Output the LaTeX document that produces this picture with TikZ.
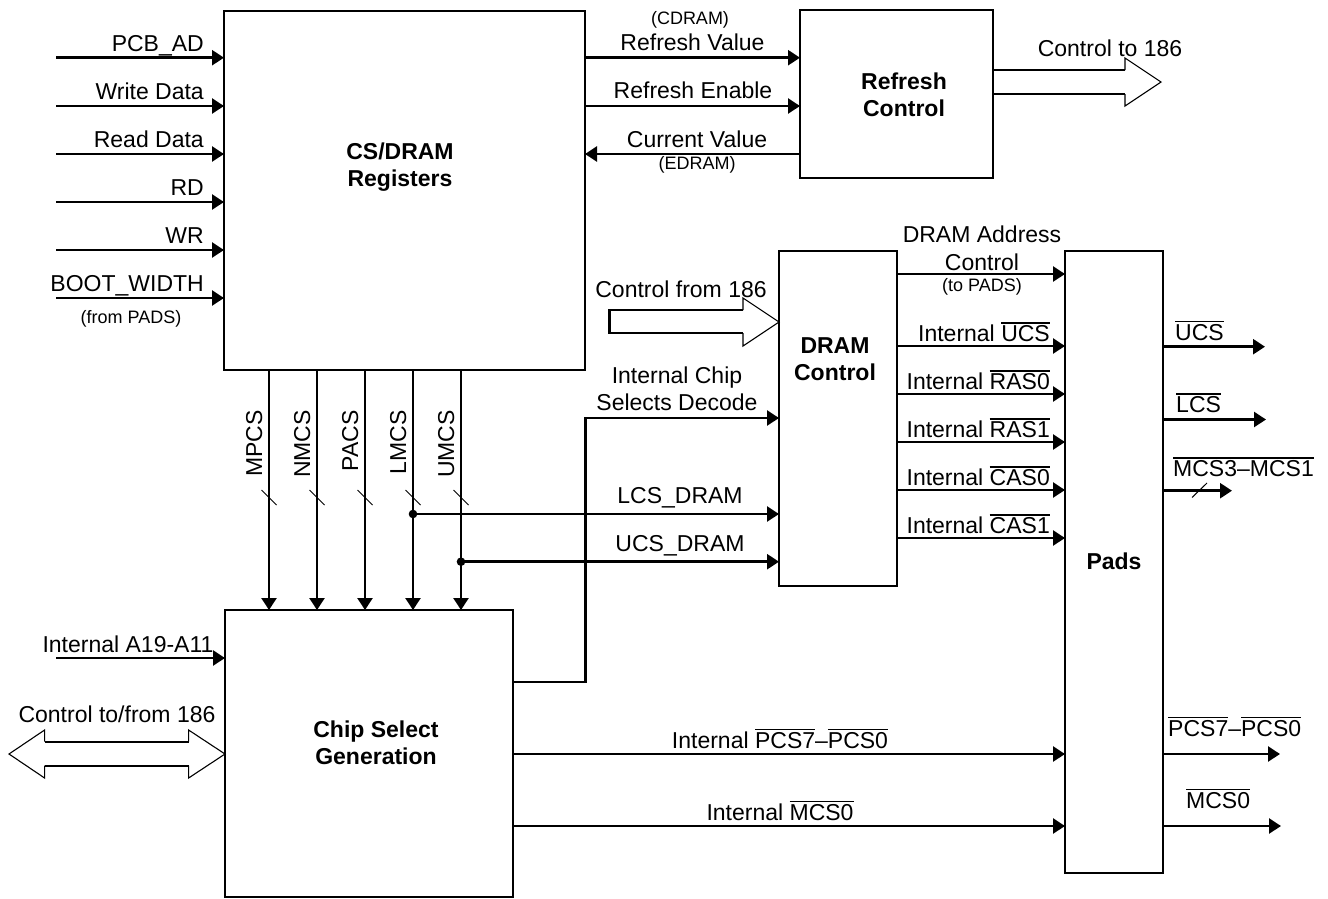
\documentclass[tikz,border=0pt]{standalone}
\usepackage{fontspec}
\setmainfont{Liberation Sans}
\usetikzlibrary{arrows.meta}
\newcommand{\ovl}[1]{\vbox{\hrule height 1.5pt\kern 1.8pt\hbox{#1}}}
\tikzset{
  box/.style={draw, line width=2.5pt, inner sep=0pt, outer sep=0pt},
  arr/.style={line width=2.5pt, -{Triangle[length=12pt,width=15pt]}},
  wire/.style={line width=2.5pt},
  lbl/.style={font=\fontsize{23}{27}\selectfont, inner sep=0pt},
  sml/.style={font=\fontsize{18}{21}\selectfont, inner sep=0pt},
  blbl/.style={font=\fontsize{23}{27}\selectfont\bfseries, align=center, inner sep=0pt},
  headline/.style={line width=1.1pt, line join=miter},
  shaft/.style={line width=2.2pt},
  tick/.style={line width=1pt},
}
\begin{document}
\begin{tikzpicture}[x=1pt, y=-1pt]
\useasboundingbox (0,0) rectangle (1328,898);
% boxes
\node[box, minimum width=361pt, minimum height=359pt] (reg) at (404.5,190.5) {};
\node[box, minimum width=193pt, minimum height=168pt] (refr) at (896.5,94) {};
\node[box, minimum width=118pt, minimum height=335pt] (dram) at (838,418.5) {};
\node[box, minimum width=98pt, minimum height=622pt] (pads) at (1114,562) {};
\node[box, minimum width=288pt, minimum height=287pt] (csg) at (369,753.5) {};
% box texts
\node[blbl] (regtxt) at (400,167) {CS/DRAM\\Registers};
\node[blbl] (refrtxt) at (904,95) {Refresh\\Control};
\node[blbl] (dramtxt) at (835,359) {DRAM\\Control};
\node[blbl] (padstxt) at (1114,561) {Pads};
\node[blbl] (csgtxt) at (376,743) {Chip Select\\Generation};
% inputs to registers
\foreach \yy/\tx [count=\i] in {57.7/PCB\_AD, 106/Write Data, 154/Read Data, 202/RD, 250/WR, 298/BOOT\_WIDTH}{
  \coordinate (in\i) at (56,\yy);
  \draw[arr] (in\i) -- (in\i -| reg.west);
  \node[lbl, anchor=base east] (inl\i) at (204,\yy-6.7) {\tx};
}
\node[sml, anchor=base] (frompads) at (131,323) {(from PADS)};
% registers <-> refresh
\coordinate (rv) at (0,57.7);
\coordinate (re) at (0,106);
\coordinate (cv) at (0,154);
\draw[arr] (reg.east |- rv) -- (refr.west |- rv);
\draw[arr] (reg.east |- re) -- (refr.west |- re);
\draw[arr] (refr.west |- cv) -- (reg.east |- cv);
\node[sml, anchor=base] (cdram) at (690,24) {(CDRAM)};
\node[lbl, anchor=base] (rvl) at (692.5,50.5) {Refresh Value};
\node[lbl, anchor=base] (rel) at (693,98.5) {Refresh Enable};
\node[lbl, anchor=base] (cvl) at (697,147.5) {Current Value};
\node[sml, anchor=base] (edram) at (697,169) {(EDRAM)};
% control to 186 (hollow arrow)
\draw[shaft] (refr.east |- 0,70) -- (1125,70);
\draw[shaft] (refr.east |- 0,94) -- (1125,94);
\draw[headline] (1125,70) -- (1125,58) -- (1161,82) -- (1125,106) -- (1125,94);
\node[lbl, anchor=base] (ct186) at (1110,56) {Control to 186};
% buses registers -> chip select generation
\foreach \xx/\nm in {269/MPCS, 317/NMCS, 365/PACS, 413/LMCS, 461/UMCS}{
  \coordinate (b\nm) at (\xx,0);
  \draw[arr] (reg.south -| b\nm) -- (csg.north -| b\nm);
  \node[lbl, rotate=90, anchor=base east] (bl\nm) at (\xx-7,410) {\nm};
  \draw[tick] (\xx-7.5,490) -- (\xx+7.5,505);
}
\coordinate (dl) at (413,514);
\coordinate (du) at (461,561.7);
\fill (dl) circle (4.3pt);
\fill (du) circle (4.3pt);
\draw[arr] (dl) -- (dram.west |- dl);
\draw[arr] (du) -- (dram.west |- du);
\node[lbl, anchor=base] (lcsd) at (680,503) {LCS\_DRAM};
\node[lbl, anchor=base] (ucsd) at (680,551) {UCS\_DRAM};
% internal chip selects decode
\coordinate (decx) at (585.5,682);
\coordinate (decy) at (0,418);
\draw[arr] (csg.east |- decx) -- (decx) |- (dram.west |- decy);
\node[lbl, anchor=base] (icsd1) at (677,383) {Internal Chip};
\node[lbl, anchor=base] (icsd2) at (677,410) {Selects Decode};
% control from 186 (hollow arrow)
\draw[shaft] (743,310) -- (609.5,310) -- (609.5,333) -- (743,333);
\draw[headline] (743,310) -- (743,298) -- (dram.west |- 0,322) -- (743,346) -- (743,333);
\node[lbl, anchor=base] (cf186) at (681,297) {Control from 186};
% dram -> pads
\foreach \yy [count=\i] in {274,346,394,442,490,538}{
  \coordinate (dp\i) at (0,\yy);
  \draw[arr] (dram.east |- dp\i) -- (pads.west |- dp\i);
}
\node[lbl, anchor=base] (dac1) at (982,242.7) {DRAM Address};
\node[lbl, anchor=base] (dac2) at (982,270) {Control};
\node[sml, anchor=base] (dac3) at (982,291.5) {(to PADS)};
\node[lbl, anchor=base east] (iucs) at (1050,341.5) {Internal \ovl{UCS}};
\node[lbl, anchor=base east] (iras0) at (1050,389.5) {Internal \ovl{RAS0}};
\node[lbl, anchor=base east] (iras1) at (1050,437.5) {Internal \ovl{RAS1}};
\node[lbl, anchor=base east] (icas0) at (1050,485.5) {Internal \ovl{CAS0}};
\node[lbl, anchor=base east] (icas1) at (1050,533.5) {Internal \ovl{CAS1}};
% chip select generation -> pads
\coordinate (cp1) at (0,754);
\coordinate (cp2) at (0,826);
\draw[arr] (csg.east |- cp1) -- (pads.west |- cp1);
\draw[arr] (csg.east |- cp2) -- (pads.west |- cp2);
\node[lbl, anchor=base] (ipcs) at (780,748) {Internal \ovl{PCS7}–\ovl{PCS0}};
\node[lbl, anchor=base] (imcs) at (780,820) {Internal \ovl{MCS0}};
% pads outputs
\coordinate (oU) at (1265,346.7);
\coordinate (oL) at (1266,419.5);
\coordinate (oM) at (1232,490.7);
\coordinate (oP) at (1280,754);
\coordinate (o0) at (1281,826);
\draw[arr] (pads.east |- oU) -- (oU);
\draw[arr] (pads.east |- oL) -- (oL);
\draw[arr] (pads.east |- oM) -- (oM);
\draw[arr] (pads.east |- oP) -- (oP);
\draw[arr] (pads.east |- o0) -- (o0);
\draw[tick] (1192,497.5) -- (1207,483);
\node[lbl, anchor=base west] (ucsl) at (1175,340) {\ovl{UCS}};
\node[lbl, anchor=base west] (lcsl) at (1176,412.7) {\ovl{LCS}};
\node[lbl, anchor=base west] (mcs31) at (1173,476.7) {\ovl{MCS3–MCS1}};
\node[lbl, anchor=base west] (pcsl) at (1168,736) {\ovl{PCS7}–\ovl{PCS0}};
\node[lbl, anchor=base west] (mcs0l) at (1186,808) {\ovl{MCS0}};
% inputs to chip select generation
\coordinate (a19) at (56,658);
\draw[arr] (a19) -- (csg.west |- a19);
\node[lbl, anchor=base] (a19l) at (128,652) {Internal A19-A11};
% control to/from 186 (double hollow arrow)
\draw[shaft] (44.6,741.7) -- (188.6,741.7);
\draw[shaft] (44.6,765.7) -- (188.6,765.7);
\draw[headline] (44.6,741.7) -- (44.6,730) -- (9,754) -- (44.6,778) -- (44.6,765.7);
\draw[headline] (188.6,741.7) -- (188.6,730) -- (csg.west |- 0,754) -- (188.6,778) -- (188.6,765.7);
\node[lbl, anchor=base] (ctf186) at (117,722) {Control to/from 186};
\end{tikzpicture}
\end{document}
